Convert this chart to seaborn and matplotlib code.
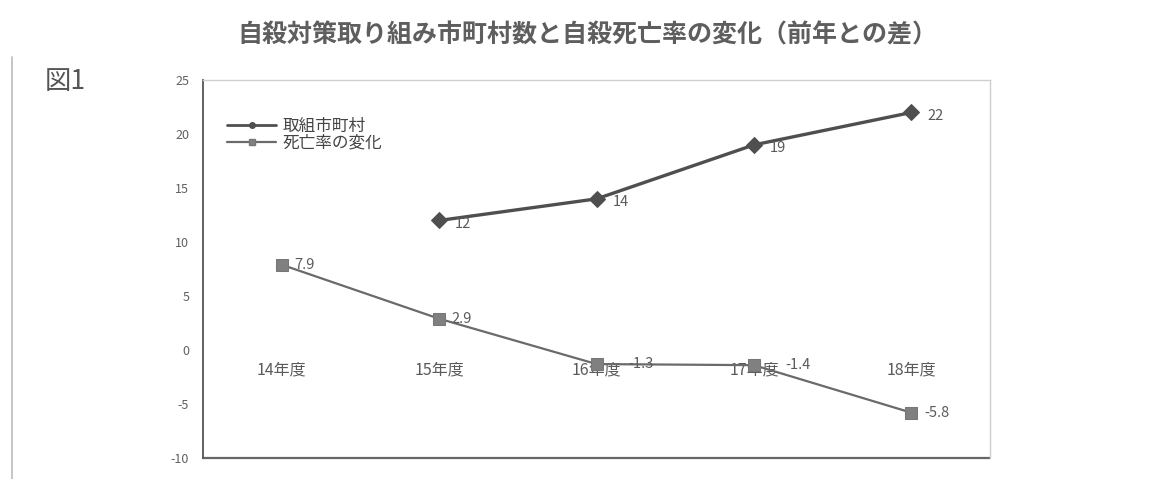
import numpy as np
import pandas as pd
import matplotlib
matplotlib.use("Agg")
import matplotlib.pyplot as plt
from matplotlib.lines import Line2D
import seaborn as sns

# Fiscal years and the two series shown against them
years = ["14年度", "15年度", "16年度", "17年度", "18年度"]
municipalities = [np.nan, 12, 14, 19, 22]      # 取組市町村
rate_change = [7.9, 2.9, -1.3, -1.4, -5.8]     # 死亡率の変化
y_ticks = [25, 20, 15, 10, 5, 0, -5, -10]

sns.set_theme(style="white")
plt.rcParams["font.family"] = ["Noto Sans CJK JP", "DejaVu Sans"]

df = pd.DataFrame({
    "pos": np.arange(len(years)),
    "year": years,
    "muni": municipalities,
    "rate": rate_change,
})

fig = plt.figure(figsize=(11.57, 4.79), dpi=100)
ax = fig.add_axes([0.1755, 0.0438, 0.6802, 0.789])

c_muni = "#4f4f4f"
c_rate = "#6a6a6a"
c_text = "#5a5a5a"

sns.lineplot(data=df.dropna(subset=["muni"]), x="pos", y="muni", ax=ax,
             color=c_muni, linewidth=2.4, marker="D", markersize=8,
             markeredgecolor=c_muni, sort=False)
sns.lineplot(data=df, x="pos", y="rate", ax=ax,
             color=c_rate, linewidth=1.6, marker="s", markersize=9,
             markeredgecolor="#777777", markerfacecolor="#808080", sort=False)

# value labels beside each point
for x, v in zip(df["pos"], df["muni"]):
    if not np.isnan(v):
        ax.text(x + 0.1, v - 0.3, f"{v:g}", fontsize=10.5, color=c_text,
                ha="left", va="center")
for x, v in zip(df["pos"], df["rate"]):
    # points sitting on the category labels get their value just past the label
    dx = 0.2 if abs(v) < 2 else 0.08
    ax.text(x + dx, v, f"{v:g}", fontsize=10.5, color=c_text,
            ha="left", va="center")

ax.set_xlim(-0.5, len(years) - 0.5)
ax.set_ylim(-10, 25)
ax.set_yticks(y_ticks)
ax.set_yticklabels([str(t) for t in y_ticks], fontsize=9, color="#606060")
ax.tick_params(axis="y", length=0, pad=10)

# category axis crosses at zero; labels sit just under the zero line
ax.spines["bottom"].set_position(("data", 0))
ax.spines["bottom"].set_visible(False)
ax.set_xticks(df["pos"])
ax.set_xticklabels(years, fontsize=11.5, color=c_text)
ax.tick_params(axis="x", length=0, pad=8)
ax.set_xlabel("")
ax.set_ylabel("")

# plot frame
ax.spines["left"].set_color("#555555")
ax.spines["left"].set_linewidth(1.3)
ax.spines["top"].set_color("#cfcfcf")
ax.spines["right"].set_color("#cfcfcf")
ax.spines["top"].set_linewidth(1.0)
ax.spines["right"].set_linewidth(1.0)
ax.axhline(-10, color="#666666", linewidth=1.6, clip_on=False)

handles = [
    Line2D([], [], color=c_muni, linewidth=2.0, marker="o", markersize=4),
    Line2D([], [], color=c_rate, linewidth=1.6, marker="s", markersize=5,
           markerfacecolor="#808080", markeredgecolor="#777777"),
]
leg = ax.legend(handles, ["取組市町村", "死亡率の変化"], loc="upper left",
                bbox_to_anchor=(0.012, 0.94), frameon=False, fontsize=12,
                handlelength=2.9, handletextpad=0.4, labelspacing=0.0)
for t in leg.get_texts():
    t.set_color("#444444")

fig.text(0.508, 0.927, "自殺対策取り組み市町村数と自殺死亡率の変化（前年との差）",
         ha="center", va="center", fontsize=18, fontweight="bold", color="#5e5e5e")
fig.text(0.039, 0.83, "図1", ha="left", va="center", fontsize=19, color="#555555")

# page border line on the left
fig.add_artist(Line2D([0.010, 0.010], [0.0, 0.88], transform=fig.transFigure,
                      color="#bbbbbb", linewidth=1.2))

fig.savefig("out.png", dpi=100, facecolor="white")
